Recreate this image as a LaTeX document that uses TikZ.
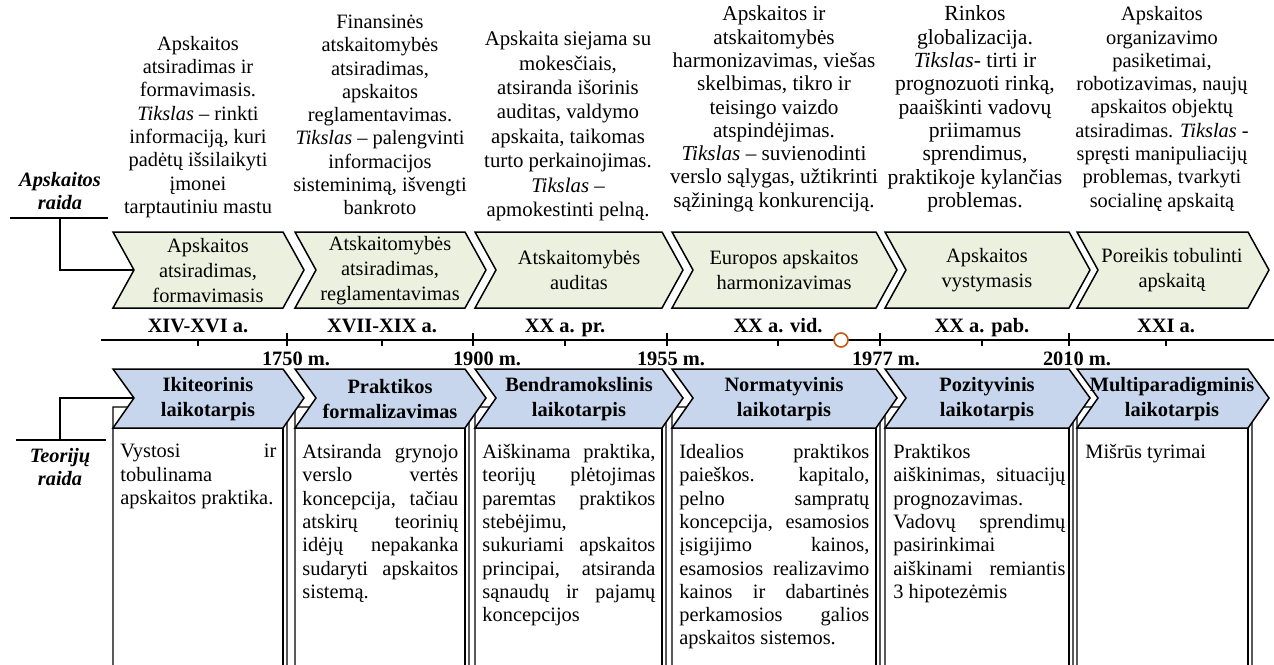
\documentclass[tikz,border=0pt]{standalone}
\usepackage{fontspec}
\setmainfont{Liberation Serif}
\definecolor{raidagreen}{RGB}{235,241,222}
\definecolor{raidablue}{RGB}{199,214,236}
\definecolor{raidaorange}{RGB}{197,90,17}

\begin{document}
\begin{tikzpicture}[x=0.5pt, y=-0.5pt,
        font=\fontsize{10.2}{11.65}\selectfont,
        chevgreen/.style={draw=black, fill=raidagreen, line width=0.75pt},
        chevblue/.style={draw=black, fill=raidablue, line width=0.75pt},
        cubebox/.style={draw=black, fill=white, line width=0.65pt},
        cubeline/.style={draw=black, line width=0.65pt},
        axisline/.style={draw=black, line width=0.6pt},
        chevtext/.style={align=center, inner sep=0pt, font=\fontsize{10.2}{12.5}\selectfont},
        periodtext/.style={align=center, inner sep=0pt, font=\fontsize{10.2}{12.5}\selectfont\bfseries},
        desctext/.style={align=center, inner sep=0pt},
        boxtext/.style={anchor=north west, inner sep=0pt, align=justify,
            execute at begin node={\hyphenpenalty=10000\exhyphenpenalty=10000\tolerance=10000}},
        eratext/.style={anchor=base, inner sep=0pt, font=\fontsize{10.2}{12}\selectfont\bfseries},
        sidetext/.style={align=center, inner sep=0pt, font=\fontsize{10.2}{11.65}\selectfont\bfseries\itshape},
        markcircle/.style={circle, draw=raidaorange, fill=white, line width=0.8pt, minimum size=7pt, inner sep=0pt}]
        \useasboundingbox (0,0) rectangle (1274,664);
        \clip (0,0) rectangle (1274,664);

        % boxes below the periods
        \draw[cubebox] (113,680) -- (113,407) -- (283,407) -- (287,403) -- (287,680);
        \draw[cubeline] (283,407) -- (283,680);
        \draw[cubebox] (295,680) -- (295,407) -- (465,407) -- (469,403) -- (469,680);
        \draw[cubeline] (465,407) -- (465,680);
        \draw[cubebox] (475,680) -- (475,407) -- (662,407) -- (666,403) -- (666,680);
        \draw[cubeline] (662,407) -- (662,680);
        \draw[cubebox] (672,680) -- (672,407) -- (876,407) -- (880,403) -- (880,680);
        \draw[cubeline] (876,407) -- (876,680);
        \draw[cubebox] (885,680) -- (885,407) -- (1069,407) -- (1073,403) -- (1073,680);
        \draw[cubeline] (1069,407) -- (1069,680);
        \draw[cubebox] (1077,680) -- (1077,407) -- (1248,407) -- (1252,403) -- (1252,680);
        \draw[cubeline] (1248,407) -- (1248,680);

        % upper chevrons
        \draw[chevgreen] (113,232) -- (283,232) -- (304,270) -- (283,308) -- (113,308) -- (134,270) -- cycle;
        \draw[chevgreen] (295,232) -- (465,232) -- (486,270) -- (465,308) -- (295,308) -- (316,270) -- cycle;
        \draw[chevgreen] (475,232) -- (662,232) -- (683,270) -- (662,308) -- (475,308) -- (496,270) -- cycle;
        \draw[chevgreen] (672,232) -- (876,232) -- (897,270) -- (876,308) -- (672,308) -- (693,270) -- cycle;
        \draw[chevgreen] (885,232) -- (1069,232) -- (1090,270) -- (1069,308) -- (885,308) -- (906,270) -- cycle;
        \draw[chevgreen] (1077,232) -- (1248,232) -- (1269,270) -- (1248,308) -- (1077,308) -- (1098,270) -- cycle;

        % lower chevrons
        \draw[chevblue] (113,369) -- (283,369) -- (304,398) -- (283,428) -- (113,428) -- (134,398) -- cycle;
        \draw[chevblue] (295,369) -- (465,369) -- (486,398) -- (465,428) -- (295,428) -- (316,398) -- cycle;
        \draw[chevblue] (475,369) -- (662,369) -- (683,398) -- (662,428) -- (475,428) -- (496,398) -- cycle;
        \draw[chevblue] (672,369) -- (876,369) -- (897,398) -- (876,428) -- (672,428) -- (693,398) -- cycle;
        \draw[chevblue] (885,369) -- (1069,369) -- (1090,398) -- (1069,428) -- (885,428) -- (906,398) -- cycle;
        \draw[chevblue] (1077,369) -- (1248,369) -- (1269,398) -- (1248,428) -- (1077,428) -- (1098,398) -- cycle;

        % side labels and brackets
        \node[sidetext] (apraida) at (60,191) {Apskaitos\\raida};
        \node[sidetext] (teoraida) at (60,467) {Teorijų\\raida};
        \coordinate (apraidaL) at (10,218);
        \coordinate (apraidaR) at (108,218);
        \coordinate (apraidaJ) at (60,218);
        \coordinate (chevnotchA) at (134,270);
        \coordinate (teoraidaL) at (16,440);
        \coordinate (teoraidaR) at (106,440);
        \coordinate (teoraidaJ) at (60,440);
        \coordinate (chevnotchB) at (134,398);
        \draw[axisline] (apraidaL) -- (apraidaR);
        \draw[axisline] (apraidaJ) |- (chevnotchA);
        \draw[axisline] (teoraidaL) -- (teoraidaR);
        \draw[axisline] (teoraidaJ) |- (chevnotchB);

        % time axis
        \coordinate (axisstart) at (101,340);
        \coordinate (axisend) at (1274,340);
        \draw[axisline] (axisstart) -- (axisend);
        \draw[axisline] (287,333) -- (287,346);
        \draw[axisline] (473,333) -- (473,346);
        \draw[axisline] (667,333) -- (667,346);
        \draw[axisline] (880,333) -- (880,346);
        \draw[axisline] (1069,333) -- (1069,346);
        \draw[axisline] (198,340) -- (198,346);
        \draw[axisline] (382,340) -- (382,346);
        \draw[axisline] (565,340) -- (565,346);
        \draw[axisline] (778,340) -- (778,346);
        \draw[axisline] (982,340) -- (982,346);
        \draw[axisline] (1166,340) -- (1166,346);
        \node[markcircle] (nowmark) at (841,340) {};

        \node[eratext] (era1) at (198,332) {XIV-XVI a.};
        \node[eratext] (era2) at (382,332) {XVII-XIX a.};
        \node[eratext] (era3) at (565,332) {XX a. pr.};
        \node[eratext] (era4) at (778,332) {XX a. vid.};
        \node[eratext] (era5) at (982,332) {XX a. pab.};
        \node[eratext] (era6) at (1166,332) {XXI a.};
        \node[eratext] (year1) at (296,365) {1750 m.};
        \node[eratext] (year2) at (487,365) {1900 m.};
        \node[eratext] (year3) at (671,365) {1955 m.};
        \node[eratext] (year4) at (886,365) {1977 m.};
        \node[eratext] (year5) at (1077,365) {2010 m.};

        % descriptions above
        \node[desctext] (desc1) at (198,127) {Apskaitos\\atsiradimas ir\\formavimasis.\\\textit{Tikslas} – rinkti\\informaciją, kuri\\padėtų išsilaikyti\\įmonei\\tarptautiniu mastu};
        \node[desctext] (desc2) at (380,115) {Finansinės\\atskaitomybės\\atsiradimas,\\apskaitos\\reglamentavimas.\\\textit{Tikslas} – palengvinti\\informacijos\\sisteminimą, išvengti\\bankroto};
        \node[desctext, font=\fontsize{10.4}{12.2}\selectfont] (desc3) at (568,126) {Apskaita siejama su\\mokesčiais,\\atsiranda išorinis\\auditas, valdymo\\apskaita, taikomas\\turto perkainojimas.\\\textit{Tikslas} –\\apmokestinti pelną.};
        \node[desctext, font=\fontsize{10.6}{11.65}\selectfont] (desc4) at (774,109) {Apskaitos ir\\atskaitomybės\\harmonizavimas, viešas\\skelbimas, tikro ir\\teisingo vaizdo\\atspindėjimas.\\\textit{Tikslas} – suvienodinti\\verslo sąlygas, užtikrinti\\sąžiningą konkurenciją.};
        \node[desctext, font=\fontsize{10.8}{11.65}\selectfont] (desc5) at (975,109) {Rinkos\\globalizacija.\\\textit{Tikslas}- tirti ir\\prognozuoti rinką,\\paaiškinti vadovų\\priimamus\\sprendimus,\\praktikoje kylančias\\problemas.};
        \node[desctext] (desc6) at (1162,109) {Apskaitos\\organizavimo\\pasiketimai,\\robotizavimas, naujų\\apskaitos objektų\\atsiradimas. \textit{Tikslas} -\\spręsti manipuliacijų\\problemas, tvarkyti\\socialinę apskaitą};

        % texts on the chevrons
        \node[chevtext] (stage1) at (208,271) {Apskaitos\\atsiradimas,\\formavimasis};
        \node[chevtext] (stage2) at (390,271) {Atskaitomybės\\atsiradimas,\\reglamentavimas};
        \node[chevtext] (stage3) at (579,270) {Atskaitomybės\\auditas};
        \node[chevtext] (stage4) at (784,270) {Europos apskaitos\\harmonizavimas};
        \node[chevtext] (stage5) at (987,270) {Apskaitos\\vystymasis};
        \node[chevtext] (stage6) at (1172,270) {Poreikis tobulinti\\apskaitą};
        \node[periodtext] (period1) at (208,399) {Ikiteorinis\\laikotarpis};
        \node[periodtext] (period2) at (390,399) {Praktikos\\formalizavimas};
        \node[periodtext] (period3) at (579,399) {Bendramokslinis\\laikotarpis};
        \node[periodtext] (period4) at (784,399) {Normatyvinis\\laikotarpis};
        \node[periodtext] (period5) at (987,399) {Pozityvinis\\laikotarpis};
        \node[periodtext] (period6) at (1172,399) {Multiparadigminis\\laikotarpis};

        % texts in the boxes
        \node[boxtext, text width=78pt] (theory1) at (120,444) {Vystosi ir\linebreak tobulinama\linebreak apskaitos praktika.};
        \node[boxtext, text width=78pt] (theory2) at (302,444) {Atsiranda grynojo\linebreak verslo vertės\linebreak koncepcija, tačiau\linebreak atskirų teorinių\linebreak idėjų nepakanka\linebreak sudaryti apskaitos\linebreak sistemą.};
        \node[boxtext, text width=86.5pt] (theory3) at (482,444) {Aiškinama praktika,\linebreak teorijų plėtojimas\linebreak paremtas praktikos\linebreak stebėjimu,\linebreak sukuriami apskaitos\linebreak principai, atsiranda\linebreak sąnaudų ir pajamų\linebreak koncepcijos};
        \node[boxtext, text width=95pt] (theory4) at (679,444) {Idealios praktikos\linebreak paieškos. kapitalo,\linebreak pelno sampratų\linebreak koncepcija, esamosios\linebreak įsigijimo kainos,\linebreak esamosios realizavimo\linebreak kainos ir dabartinės\linebreak perkamosios galios\linebreak apskaitos sistemos.};
        \node[boxtext, text width=86pt] (theory5) at (893,444) {Praktikos\linebreak aiškinimas, situacijų\linebreak prognozavimas.\linebreak Vadovų sprendimų\linebreak pasirinkimai\linebreak aiškinami remiantis\linebreak 3 hipotezėmis};
        \node[boxtext, text width=78pt] (theory6) at (1085,444) {Mišrūs tyrimai};
    \end{tikzpicture}
\end{document}
